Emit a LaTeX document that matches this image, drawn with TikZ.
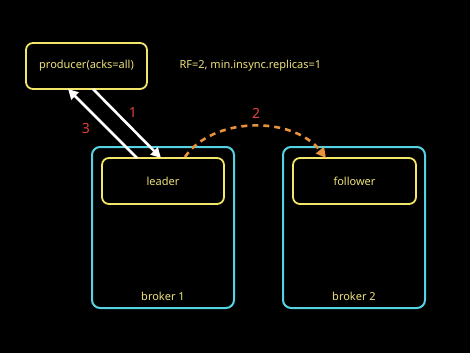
\documentclass[tikz,border=0pt]{standalone}
\usepackage{fontspec}
\setmainfont{Noto Sans}
\usetikzlibrary{arrows.meta}
\definecolor{ylw}{HTML}{F2E56A}
\definecolor{ytxt}{HTML}{EDE27A}
\definecolor{cyn}{HTML}{55D3E3}
\definecolor{org}{HTML}{E8923E}
\definecolor{rd}{HTML}{E0443A}
\tikzset{
  ybox/.style={draw=ylw, line width=1.8pt, rounded corners=7pt},
  cbox/.style={draw=cyn, line width=2pt, rounded corners=8pt},
  lbl/.style={text=ytxt, font=\fontsize{11}{13}\selectfont},
  num/.style={text=rd, font=\fontsize{14}{16}\selectfont},
  warr/.style={draw=white, line width=2.6pt, -{Triangle[length=10pt,width=10pt]}}
}
\begin{document}
\begin{tikzpicture}[x=1pt,y=-1pt]
\fill[black] (0,0) rectangle (470,353);
\useasboundingbox (0,0) rectangle (470,353);
% brokers
\draw[cbox] (92,147) rectangle (234,308);
\draw[cbox] (283,147) rectangle (425,308);
\node[lbl] (b1) at (163,296) {broker 1};
\node[lbl] (b2) at (354,296) {broker 2};
% boxes
\draw[ybox] (26,43) rectangle (147,89);
\node[lbl] (prod) at (86.5,66) {producer(acks=all)};
\coordinate (prodB1) at (93,89);
\coordinate (prodB3) at (68,89);
\draw[ybox] (102,158) rectangle (224,204);
\node[lbl] (leader) at (163,181) {leader};
\draw[ybox] (293,158) rectangle (416,204);
\node[lbl] (follower) at (354.5,181) {follower};
\node[lbl, anchor=west] (rf) at (176,66) {RF=2, min.insync.replicas=1};
% arrows
\coordinate (l1) at (161,158);
\coordinate (l3) at (137,158);
\draw[warr] (prodB1) -- (l1);
\draw[warr] (l3) -- (prodB3);
\node[num] (n1) at (133,113) {1};
\node[num] (n3) at (86,128) {3};
\coordinate (s2) at (185,157);
\coordinate (e2) at (326,158);
\draw[draw=org, line width=2.6pt, dash pattern=on 6pt off 5pt, -{Triangle[length=10pt,width=10pt]}]
  (s2) .. controls (212,117) and (292,115) .. (e2);
\node[num] (n2) at (256,113) {2};
\end{tikzpicture}
\end{document}
